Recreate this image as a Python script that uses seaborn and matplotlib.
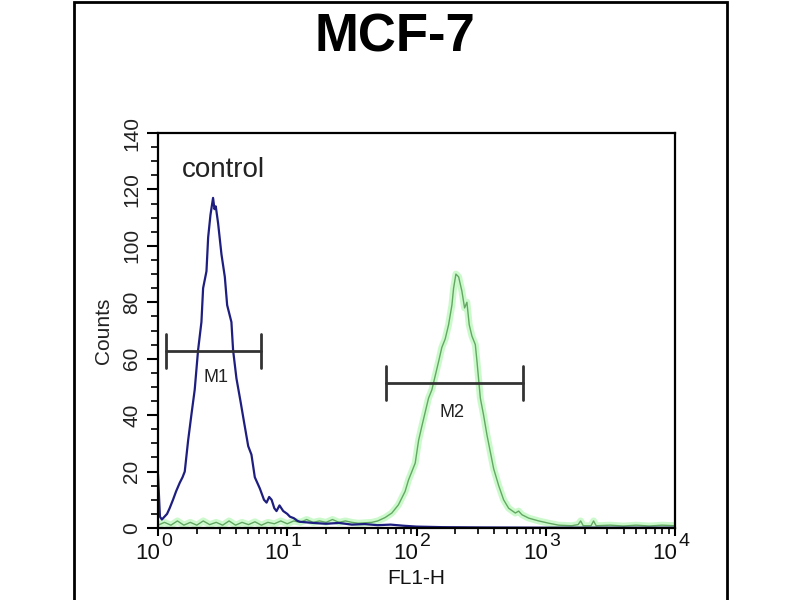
import matplotlib
matplotlib.use("Agg")
import matplotlib.pyplot as plt
from matplotlib.patches import Rectangle
from matplotlib.ticker import MultipleLocator, LogLocator, NullFormatter
import seaborn as sns
import pandas as pd
import numpy as np

# control histogram (FL1-H in log10 decades, counts)
ctrl_log = [0.000, 0.015, 0.030, 0.050, 0.070, 0.090, 0.116, 0.140, 0.168, 0.190,
            0.207, 0.233, 0.258, 0.284, 0.310, 0.336, 0.349, 0.375, 0.388, 0.406,
            0.426, 0.437, 0.447, 0.465, 0.491, 0.517, 0.535, 0.568, 0.581, 0.607,
            0.638, 0.664, 0.698, 0.723, 0.749, 0.788, 0.820, 0.840, 0.860, 0.879,
            0.900, 0.917, 0.940, 0.969, 1.000, 1.021, 1.050, 1.080, 1.100, 1.200,
            1.300, 1.400, 1.500, 1.600, 1.700, 1.800, 1.900, 2.000, 2.200, 2.500,
            3.000, 3.500, 4.000]
ctrl_counts = [19, 4, 3, 4, 5, 7, 10, 13, 16, 18,
               20, 31, 40, 49, 63, 73, 85, 91, 103, 111,
               117, 113, 114, 108, 97, 89, 79, 73, 63, 53,
               45, 38, 29, 26, 18, 14, 10, 9, 11, 10,
               7, 6, 8, 6, 5, 4, 3.5, 2.5, 2.2, 1.8,
               1.5, 1.8, 1.2, 1.4, 1.0, 1.2, 0.8, 0.5, 0.3, 0.2,
               0.1, 0.1, 0.1]

# stained sample histogram
stain_log = [0.00, 0.05, 0.10, 0.15, 0.20, 0.25, 0.30, 0.35, 0.40, 0.45,
             0.50, 0.55, 0.60, 0.65, 0.70, 0.75, 0.80, 0.85, 0.90, 0.95,
             1.00, 1.05, 1.10, 1.15, 1.20, 1.25, 1.30, 1.35, 1.40, 1.45,
             1.50, 1.55, 1.654, 1.700, 1.757, 1.809, 1.860, 1.912, 1.938, 1.964,
             1.990, 2.016, 2.041, 2.067, 2.093, 2.119, 2.145, 2.171, 2.196, 2.222,
             2.248, 2.274, 2.287, 2.305, 2.326, 2.351, 2.372, 2.390, 2.408, 2.429,
             2.455, 2.468, 2.494, 2.519, 2.545, 2.571, 2.597, 2.636, 2.674, 2.713,
             2.765, 2.790, 2.816, 2.868, 2.946, 3.023, 3.100, 3.200, 3.250, 3.270,
             3.290, 3.350, 3.370, 3.390, 3.500, 3.600, 3.700, 3.800, 3.900, 4.000]
stain_counts = [1, 2, 1, 2.5, 1, 2, 1, 2.5, 1.2, 2,
                1, 2.5, 1, 2, 1.2, 2.2, 1, 2, 1.5, 2.5,
                1.5, 2.5, 2, 3, 2, 2.5, 2, 3, 2, 2.5,
                2, 1.7, 2, 2.5, 3.7, 5.3, 8.2, 13, 17, 20,
                23, 31, 36, 41, 46, 49, 54, 59, 64, 67,
                72, 79, 85, 90, 89, 84, 78, 80, 72, 68,
                65, 59, 46, 40, 33, 27, 21, 15, 10, 7,
                5.3, 6, 4.7, 3.5, 2.5, 1.7, 1, 0.8, 1.2, 2.5,
                0.8, 0.8, 2.5, 0.8, 1, 0.7, 1, 0.7, 1, 0.8]

# gates
gate_names = ["M1", "M2"]
gate_lo = [1.15, 58.5]
gate_hi = [6.3, 664]
gate_level = [62.8, 51.4]
gate_label_x = [2.8, 187]
gate_label_y = [53.5, 41]

decade_exps = [0, 1, 2, 3, 4]

ctrl = pd.DataFrame({"FL1-H": np.power(10.0, ctrl_log), "Counts": ctrl_counts})
stain = pd.DataFrame({"FL1-H": np.power(10.0, stain_log), "Counts": stain_counts})

sns.set_theme(style="ticks")
plt.rcParams["font.family"] = ["Liberation Sans", "DejaVu Sans"]

fig = plt.figure(figsize=(8, 6), dpi=100)
fig.patches.append(Rectangle((0.0925, -0.01), 0.8163, 1.007, transform=fig.transFigure,
                             fill=False, edgecolor="black", linewidth=2))
ax = fig.add_axes([158 / 800, 1 - 528 / 600, (675 - 158) / 800, (528 - 133) / 600])

# stained: soft green glow with thin core
sns.lineplot(data=stain, x="FL1-H", y="Counts", ax=ax, color="#9af59a", linewidth=5,
             alpha=0.5, estimator=None, sort=False)
sns.lineplot(data=stain, x="FL1-H", y="Counts", ax=ax, color="#62a862", linewidth=1,
             estimator=None, sort=False)
sns.lineplot(data=ctrl, x="FL1-H", y="Counts", ax=ax, color="#1e1e80", linewidth=1.6,
             estimator=None, sort=False)

for name, lo, hi, lvl, lx, ly in zip(gate_names, gate_lo, gate_hi, gate_level,
                                     gate_label_x, gate_label_y):
    ax.plot([lo, hi], [lvl, lvl], color="#333333", linewidth=2)
    ax.plot([lo, lo], [lvl - 6, lvl + 6], color="#333333", linewidth=2)
    ax.plot([hi, hi], [lvl - 6, lvl + 6], color="#333333", linewidth=2)
    ax.text(lx, ly, name, ha="center", va="center", fontsize=13, color="#222222")

ax.text(3.19, 127, "control", ha="center", va="center", fontsize=20, color="#222222")

ax.set_xscale("log")
ax.set_xlim(1, 1e4)
ax.set_ylim(0, 140)
ax.xaxis.set_major_locator(LogLocator(base=10, numticks=10))
ax.xaxis.set_minor_locator(LogLocator(base=10, subs=np.arange(2, 10), numticks=10))
ax.xaxis.set_major_formatter(NullFormatter())
ax.xaxis.set_minor_formatter(NullFormatter())
ax.yaxis.set_major_locator(MultipleLocator(20))
ax.yaxis.set_minor_locator(MultipleLocator(5))
ax.tick_params(axis="x", which="major", direction="out", length=6, width=1.5, color="black")
ax.tick_params(axis="x", which="minor", direction="out", length=4, width=1.2, color="black")
ax.tick_params(axis="y", which="major", direction="out", length=8, width=1.5, color="black")
ax.tick_params(axis="y", which="minor", direction="out", length=5, width=1.2, color="black")
ax.tick_params(axis="y", labelsize=15, pad=4, labelcolor="#222222")
for lab in ax.get_yticklabels():
    lab.set_rotation(90)
    lab.set_va("center")

# decade labels: "10" with a large raised exponent
for e in decade_exps:
    ax.annotate("10", xy=(10.0 ** e, 0), xycoords=("data", "axes fraction"),
                xytext=(1.5, -10.5), textcoords="offset points", ha="right", va="top",
                fontsize=16, color="#111111")
    ax.annotate(str(e), xy=(10.0 ** e, 0), xycoords=("data", "axes fraction"),
                xytext=(2.6, -3.6), textcoords="offset points", ha="left", va="top",
                fontsize=14, color="#111111", annotation_clip=False)

for sp in ax.spines.values():
    sp.set_visible(True)
    sp.set_linewidth(1.6)
    sp.set_color("black")

ax.set_xlabel("FL1-H", fontsize=15, color="#111111")
ax.set_ylabel("Counts", fontsize=15, color="#222222")
ax.xaxis.set_label_coords(0.5, -0.104)
ax.yaxis.set_label_coords(-0.087, 0.5)

fig.text(395 / 800, 1 - 52 / 600, "MCF-7", ha="center", va="baseline", fontsize=38,
         fontweight="bold", color="black")

fig.savefig("out.png", dpi=100)
